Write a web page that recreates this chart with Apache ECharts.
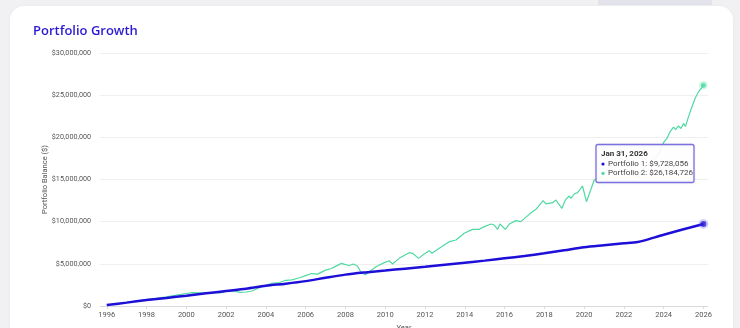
<!DOCTYPE html>
<html>
<head>
<meta charset="utf-8">
<script src="https://cdn.jsdelivr.net/npm/echarts@6/dist/echarts.min.js"></script>
<style>
  html, body { margin: 0; padding: 0; background: #f1f1f4; width: 740px; height: 328px; overflow: hidden; }
  #band { position: absolute; left: 598px; top: 0; width: 114px; height: 5px; background: #e3e3ec; }
  #card { position: absolute; left: 10px; top: 6px; width: 723px; height: 360px; background: #fff; border-radius: 14px; box-shadow: 0 0 4px rgba(0,0,0,0.04); }
  #chart { position: absolute; left: 0; top: 0; width: 740px; height: 328px; }
</style>
</head>
<body>
<div id="band"></div>
<div id="card"></div>
<div id="chart"></div>
<script>
// Portfolio 1 (decimal year, $ millions)
const p1Years = [1996.0,1997.0,1998.0,1999.0,2000.0,2001.0,2002.0,2003.0,2004.0,2005.0,2006.0,2007.0,2008.0,2009.0,2010.0,2011.0,2012.0,2013.0,2014.0,2015.0,2016.0,2017.0,2018.0,2019.0,2020.0,2021.0,2022.0,2022.7,2023.0,2024.0,2025.0,2026.0];
const p1Values = [0.12,0.4,0.7,0.95,1.22,1.5,1.78,2.05,2.4,2.65,2.95,3.35,3.72,3.98,4.2,4.43,4.66,4.9,5.14,5.38,5.65,5.93,6.25,6.6,6.96,7.2,7.43,7.6,7.75,8.45,9.1,9.728056];

// Portfolio 2 (decimal year, $ millions)
const p2Years = [1996.0,1996.5,1997.0,1997.5,1998.0,1998.5,1999.0,1999.5,2000.0,2000.3,2000.7,2001.0,2001.3,2001.7,2002.0,2002.4,2002.7,2003.0,2003.3,2003.7,2004.0,2004.3,2004.7,2005.0,2005.3,2005.7,2006.0,2006.3,2006.6,2007.0,2007.3,2007.5,2007.8,2008.0,2008.2,2008.4,2008.6,2008.8,2009.0,2009.1,2009.2,2009.54,2009.95,2010.2,2010.37,2010.7,2011.2,2011.38,2011.68,2011.96,2012.22,2012.35,2012.72,2013.22,2013.56,2013.97,2014.39,2014.73,2014.98,2015.32,2015.48,2015.65,2015.77,2016.04,2016.24,2016.57,2016.82,2017.24,2017.58,2017.94,2018.08,2018.41,2018.58,2018.88,2019.08,2019.25,2019.34,2019.5,2019.67,2019.92,2020.12,2020.26,2020.51,2020.8,2021.0,2021.3,2021.6,2021.9,2022.2,2022.45,2022.75,2023.0,2023.3,2023.6,2023.8,2024.0,2024.17,2024.33,2024.5,2024.6,2024.74,2024.87,2025.0,2025.1,2025.25,2025.42,2025.58,2025.75,2025.92,2026.0];
const p2Values = [0.12,0.25,0.42,0.58,0.75,0.92,1.1,1.28,1.48,1.58,1.55,1.52,1.6,1.56,1.72,1.8,1.62,1.66,1.78,2.2,2.45,2.7,2.78,3.05,3.1,3.35,3.6,3.85,3.78,4.25,4.45,4.7,5.05,4.9,4.8,4.98,4.75,3.95,3.7,3.5,4.07,4.66,5.14,5.37,4.98,5.65,6.32,6.25,5.65,6.17,6.56,6.25,6.84,7.63,7.83,8.62,9.09,9.09,9.41,9.72,9.6,9.09,9.72,9.09,9.72,10.12,10.0,10.87,11.47,12.49,12.1,12.25,12.57,11.58,12.65,13.04,12.77,13.28,13.44,14.23,12.37,13.28,14.94,15.2,15.6,16.6,17.5,18.5,17.3,15.9,15.2,16.3,17.0,17.6,18.3,19.4,19.9,20.7,21.2,20.9,21.35,21.05,21.65,21.3,22.45,23.6,24.6,25.4,25.9,26.184726];

const xTicks = [1996,1998,2000,2002,2004,2006,2008,2010,2012,2014,2016,2018,2020,2022,2024,2026];
const tooltipDate = 'Jan 31, 2026';
const tooltipP1 = 'Portfolio 1: $9,728,056';
const tooltipP2 = 'Portfolio 2: $26,184,726';

const BLUE = '#1d0fd8';
const GREEN = '#4fd9a2';
const toPairs = (xs, vs) => xs.map((x, i) => [x, vs[i] * 1e6]);
const p1 = toPairs(p1Years, p1Values);
const p2 = toPairs(p2Years, p2Values);

const chart = echarts.init(document.getElementById('chart'), null, { renderer: 'canvas' });
const FONT = 'Roboto';
chart.setOption({
  animation: false,
  backgroundColor: 'transparent',
  title: {
    text: 'Portfolio Growth', left: 28, top: 20,
    textStyle: { color: '#2b19d4', fontSize: 13, fontWeight: 600, fontFamily: 'Open Sans' }
  },
  grid: { left: 100, right: 32, top: 53, bottom: 22, containLabel: false, outerBoundsMode: 'none' },
  xAxis: {
    type: 'value', min: 1995.66, max: 2026.23,
    name: 'Year', nameLocation: 'middle', nameGap: 18, nameMoveOverlap: false,
    nameTextStyle: { color: '#555', fontSize: 7.5, fontFamily: FONT },
    axisLine: { lineStyle: { color: '#d9d9de', width: 1 } },
    axisTick: { show: true, customValues: xTicks, length: 3, lineStyle: { color: '#d9d9de' } },
    axisLabel: { customValues: xTicks, color: '#555', fontSize: 7.5, fontFamily: FONT, margin: 5, formatter: v => String(Math.round(v)) },
    splitLine: { show: false }
  },
  yAxis: {
    type: 'value', min: 0, max: 30000000, interval: 5000000,
    name: 'Portfolio Balance ($)', nameLocation: 'middle', nameGap: 51, nameRotate: 90, nameMoveOverlap: false,
    nameTextStyle: { color: '#555', fontSize: 7.5, fontFamily: FONT },
    axisLine: { show: false }, axisTick: { show: false },
    axisLabel: { color: '#555', fontSize: 7.2, fontFamily: FONT, margin: 9,
      formatter: v => '$' + v.toLocaleString('en-US') },
    splitLine: { lineStyle: { color: '#efeff2', width: 1 } }
  },
  series: [
    { name: 'Portfolio 2', type: 'line', data: p2, showSymbol: false, smooth: false,
      lineStyle: { color: GREEN, width: 1.2 }, z: 2 },
    { name: 'Portfolio 1', type: 'line', data: p1, showSymbol: false, smooth: 0.3,
      lineStyle: { color: BLUE, width: 2.5 }, z: 3 },
    { type: 'scatter', data: [p2[p2.length - 1]], symbolSize: 5,
      itemStyle: { color: GREEN, borderColor: 'rgba(79,217,162,0.3)', borderWidth: 4 }, z: 5 },
    { type: 'scatter', data: [p1[p1.length - 1]], symbolSize: 6,
      itemStyle: { color: BLUE, borderColor: 'rgba(90,75,230,0.3)', borderWidth: 4 }, z: 5 }
  ],
  graphic: [
    { type: 'rect', z: 100, shape: { x: 596, y: 144.5, width: 98, height: 38, r: 2 },
      style: { fill: 'rgba(255,255,255,0.92)', stroke: '#7b6fe3', lineWidth: 1.3,
        shadowBlur: 3, shadowColor: 'rgba(0,0,0,0.08)' } },
    { type: 'text', z: 101, x: 601, y: 154.3, style: { text: tooltipDate, fill: '#333', font: 'bold 8px Roboto', verticalAlign: 'middle' } },
    { type: 'circle', z: 101, shape: { cx: 603, cy: 164, r: 1.6 }, style: { fill: BLUE } },
    { type: 'text', z: 101, x: 608, y: 164, style: { text: tooltipP1, fill: '#444', font: '8px Roboto', verticalAlign: 'middle' } },
    { type: 'circle', z: 101, shape: { cx: 603, cy: 173.3, r: 1.6 }, style: { fill: GREEN } },
    { type: 'text', z: 101, x: 608, y: 173.3, style: { text: tooltipP2, fill: '#444', font: '8px Roboto', verticalAlign: 'middle' } }
  ]
});
</script>
</body>
</html>
